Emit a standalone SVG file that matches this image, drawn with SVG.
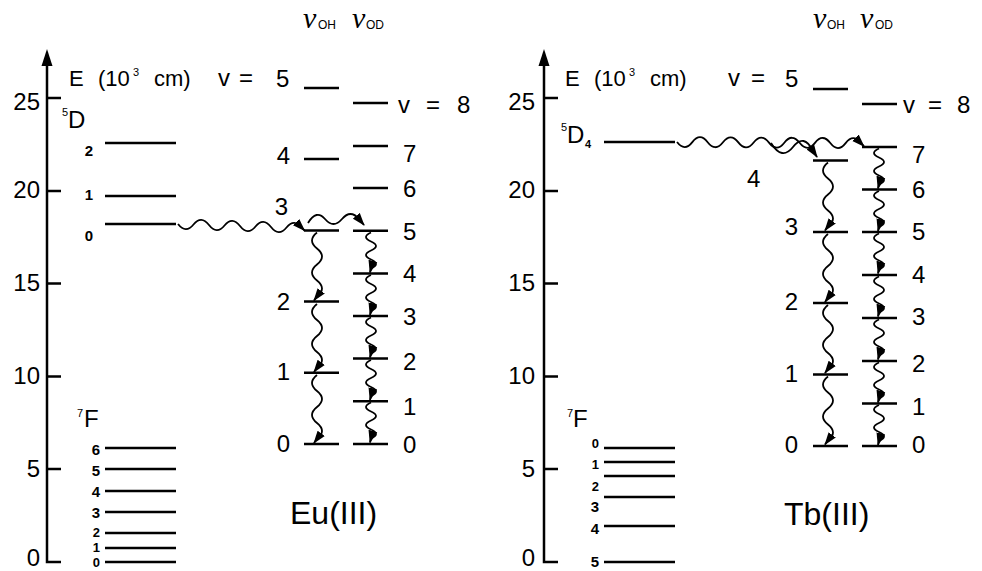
<svg xmlns="http://www.w3.org/2000/svg" width="982" height="571" viewBox="0 0 982 571">
<defs>
<style>
.ax{stroke:#000;stroke-width:2.5;fill:none}
.lv{stroke:#000;stroke-width:2.5;fill:none}
.wv{stroke:#000;stroke-width:1.8;fill:none;marker-end:url(#ah)}
text{font-family:"Liberation Sans",Arial,sans-serif;fill:#000}
.tk{font-size:24px;text-anchor:end}
.lb{font-size:24px}
.el{font-size:22px}
.sup{font-size:11px}
.sm{font-size:15px;font-weight:bold;text-anchor:end}
.sm2{font-size:13px;font-weight:bold;text-anchor:end}
.end{text-anchor:end}
.big{font-size:32px}
.nu{font-family:"Liberation Serif","Times New Roman",serif;font-style:italic;font-size:30px}
.sub{font-size:12px}
</style>
<marker id="ah" markerWidth="13" markerHeight="10" refX="12" refY="5" orient="auto" markerUnits="userSpaceOnUse"><path d="M0 0.5 L13 5 L0 9.5 Z" fill="#000"/></marker>
</defs>
<rect width="982" height="571" fill="#fff"/>

<!-- ===== Eu(III) panel ===== -->
<g id="eu-axis">
<path class="ax" d="M47 62 V562 H61 M47 98 H61 M47 191 H61 M47 283.5 H61 M47 376.5 H61 M47 469 H61"/>
<polygon points="47,49 41.5,66 52.5,66" fill="#000"/>
<text class="tk" x="40" y="110">25</text>
<text class="tk" x="40" y="198">20</text>
<text class="tk" x="40" y="291">15</text>
<text class="tk" x="40" y="384">10</text>
<text class="tk" x="40" y="477">5</text>
<text class="tk" x="40" y="566">0</text>
<text class="el" x="69" y="86">E</text>
<text class="el" x="98" y="86">(10</text>
<text class="sup" x="133" y="76">3</text>
<text class="el" x="154" y="86">cm)</text>
</g>
<g id="eu-5D">
<text class="sup" x="62" y="116">5</text>
<text class="lb" x="68" y="128">D</text>
<path class="lv" d="M105 143 H176 M105 196 H176 M105 224 H176"/>
<text class="sm" x="93" y="156">2</text>
<text class="sm" x="93" y="200">1</text>
<text class="sm" x="93" y="241">0</text>
</g>
<g id="eu-7F">
<text class="sup" x="77" y="417">7</text>
<text class="lb" x="84" y="427">F</text>
<path class="lv" d="M105 448 H176 M105 469 H176 M105 491 H176 M105 512 H176 M105 533 H176 M105 548 H176 M105 562 H176"/>
<text class="sm" x="100" y="455">6</text>
<text class="sm" x="100" y="476">5</text>
<text class="sm" x="100" y="497">4</text>
<text class="sm" x="100" y="518">3</text>
<text class="sm2" x="100" y="537">2</text>
<text class="sm2" x="100" y="552">1</text>
<text class="sm2" x="100" y="567">0</text>
</g>
<g id="eu-OH">
<text class="nu" x="303" y="28">ν</text>
<text class="sub" x="318" y="29">OH</text>
<path class="lv" d="M304 88 H339 M304 159 H339 M304 230.4 H339 M304 301.6 H339 M304 372.8 H339 M304 444 H339"/>
<text class="lb" x="218" y="86">v</text>
<text class="lb" x="239" y="86">=</text>
<text class="lb" x="276" y="87">5</text>
<text class="lb end" x="290" y="164">4</text>
<text class="lb end" x="288" y="215">3</text>
<text class="lb end" x="290" y="310">2</text>
<text class="lb end" x="290" y="380">1</text>
<text class="lb end" x="290" y="452">0</text>
</g>
<g id="eu-OD">
<text class="nu" x="352" y="28">ν</text>
<text class="sub" x="366" y="29">OD</text>
<path class="lv" d="M353 103 H388 M353 146 H388 M353 188 H388 M353 230.8 H388 M353 273.4 H388 M353 316 H388 M353 358.6 H388 M353 401.2 H388 M353 444 H388"/>
<text class="lb" x="398" y="113">v</text>
<text class="lb" x="426" y="113">=</text>
<text class="lb" x="457" y="113">8</text>
<text class="lb" x="403" y="162">7</text>
<text class="lb" x="403" y="197">6</text>
<text class="lb" x="403" y="240">5</text>
<text class="lb" x="403" y="282">4</text>
<text class="lb" x="403" y="325">3</text>
<text class="lb" x="403" y="370">2</text>
<text class="lb" x="403" y="415">1</text>
<text class="lb" x="403" y="453">0</text>
</g>
<g id="eu-label"><text class="big" x="290" y="524">Eu(III)</text></g>
<g id="eu-connectors">
<path class="wv" d="M178 224 q7.75 10 15.5 0.5 t15.5 0.5 t15.5 0.5 t15.5 0.5 t15.5 0.5 t15.5 0.5 t15.5 0.5 t15.5 0.5 l2.5 2.5"/>
<path class="wv" d="M308 223 q8.5 -14 17 -4 t17 0 t17 0 l5 6"/>
<path class="wv" d="M317 232.5 q-10 8 0 16 t0 16 t0 16 t0 16 l-3 4"/>
<path class="wv" d="M317 304 q-10 8 0 16 t0 16 t0 16 t0 16 l-3 4"/>
<path class="wv" d="M317 375 q-10 8 0 16 t0 16 t0 16 t0 16 l-3 4"/>
<path class="wv" d="M371 232.5 q-10 4.5 0 9 t0 9 t0 9 t0 9 l-1 4"/>
<path class="wv" d="M371 275 q-10 4.5 0 9 t0 9 t0 9 t0 9 l-1 4"/>
<path class="wv" d="M371 317.5 q-10 4.5 0 9 t0 9 t0 9 t0 9 l-1 4"/>
<path class="wv" d="M371 360 q-10 4.5 0 9 t0 9 t0 9 t0 9 l-1 4"/>
<path class="wv" d="M371 402.5 q-10 4.5 0 9 t0 9 t0 9 t0 9 l-1 4"/>
</g>

<!-- ===== Tb(III) panel ===== -->
<g id="tb-axis">
<path class="ax" d="M544 62 V562 H558 M544 98 H558 M544 191 H558 M544 283.5 H558 M544 376.5 H558 M544 469 H558"/>
<polygon points="544,49 538.5,66 549.5,66" fill="#000"/>
<text class="tk" x="535" y="110">25</text>
<text class="tk" x="535" y="198">20</text>
<text class="tk" x="535" y="291">15</text>
<text class="tk" x="535" y="384">10</text>
<text class="tk" x="535" y="477">5</text>
<text class="tk" x="535" y="566">0</text>
<text class="el" x="565" y="86">E</text>
<text class="el" x="594" y="86">(10</text>
<text class="sup" x="629" y="76">3</text>
<text class="el" x="650" y="86">cm)</text>
</g>
<g id="tb-5D4">
<text class="sup" x="561" y="131">5</text>
<text class="lb" x="567" y="143">D</text>
<text class="sup" x="585" y="148" font-weight="bold">4</text>
<path class="lv" d="M604 142 H675"/>
</g>
<g id="tb-7F">
<text class="sup" x="567" y="417">7</text>
<text class="lb" x="573" y="427">F</text>
<path class="lv" d="M604 448 H675 M604 462 H675 M604 476 H675 M604 497 H675 M604 526 H675 M604 562 H675"/>
<text class="sm2" x="599" y="448">0</text>
<text class="sm2" x="599" y="469">1</text>
<text class="sm2" x="599" y="491">2</text>
<text class="sm" x="599" y="512">3</text>
<text class="sm" x="599" y="534">4</text>
<text class="sm" x="599" y="567">5</text>
</g>
<g id="tb-OH">
<text class="nu" x="813" y="28">ν</text>
<text class="sub" x="827" y="29">OH</text>
<path class="lv" d="M813 89 H848 M813 160.5 H848 M813 232 H848 M813 303 H848 M813 374.5 H848 M813 446 H848"/>
<text class="lb" x="728" y="86">v</text>
<text class="lb" x="751" y="86">=</text>
<text class="lb" x="785" y="87">5</text>
<text class="lb" x="747" y="187">4</text>
<text class="lb end" x="798" y="235">3</text>
<text class="lb end" x="798" y="310">2</text>
<text class="lb end" x="798" y="382">1</text>
<text class="lb end" x="798" y="453">0</text>
</g>
<g id="tb-OD">
<text class="nu" x="860" y="28">ν</text>
<text class="sub" x="875" y="29">OD</text>
<path class="lv" d="M862 104 H897 M862 147 H897 M862 189.5 H897 M862 232 H897 M862 275 H897 M862 318 H897 M862 361 H897 M862 403.5 H897 M862 446 H897"/>
<text class="lb" x="903" y="113">v</text>
<text class="lb" x="928" y="113">=</text>
<text class="lb" x="957" y="113">8</text>
<text class="lb" x="912" y="163">7</text>
<text class="lb" x="912" y="198">6</text>
<text class="lb" x="912" y="240">5</text>
<text class="lb" x="912" y="283">4</text>
<text class="lb" x="912" y="325">3</text>
<text class="lb" x="912" y="372">2</text>
<text class="lb" x="912" y="415">1</text>
<text class="lb" x="912" y="453">0</text>
</g>
<g id="tb-label"><text class="big" x="784" y="525">Tb(III)</text></g>
<g id="tb-connectors">
<path class="wv" d="M677 142 q7.67 10 15.33 0.1 t15.33 0.1 t15.33 0.1 t15.33 0.1 t15.33 0.1 t15.33 0.1 t15.33 0.1 t15.33 0.1 t15.33 0.1 t15.33 0.1 t15.33 0.1 t15.33 0.1 l3 3"/>
<path class="wv" d="M771 143 q11 18 22 4 t20 4 l4 6"/>
<path class="wv" d="M828 162.5 q-10 8 0 16 t0 16 t0 16 t0 16 l-3 4"/>
<path class="wv" d="M828 234 q-10 8 0 16 t0 16 t0 16 t0 16 l-3 4"/>
<path class="wv" d="M828 305 q-10 8 0 16 t0 16 t0 16 t0 16 l-3 4"/>
<path class="wv" d="M828 376.5 q-10 8 0 16 t0 16 t0 16 t0 16 l-3 4"/>
<path class="wv" d="M879 148.5 q-10 4.5 0 9 t0 9 t0 9 t0 9 l-1 4"/>
<path class="wv" d="M879 191 q-10 4.5 0 9 t0 9 t0 9 t0 9 l-1 4"/>
<path class="wv" d="M879 233.5 q-10 4.5 0 9 t0 9 t0 9 t0 9 l-1 4"/>
<path class="wv" d="M879 276.5 q-10 4.5 0 9 t0 9 t0 9 t0 9 l-1 4"/>
<path class="wv" d="M879 319.5 q-10 4.5 0 9 t0 9 t0 9 t0 9 l-1 4"/>
<path class="wv" d="M879 362.5 q-10 4.5 0 9 t0 9 t0 9 t0 9 l-1 4"/>
<path class="wv" d="M879 405 q-10 4.5 0 9 t0 9 t0 9 t0 9 l-1 4"/>
</g>
</svg>
